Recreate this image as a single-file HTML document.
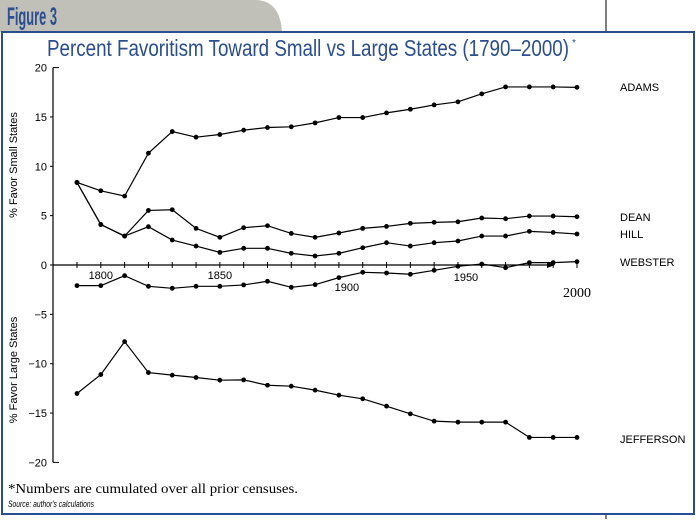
<!DOCTYPE html>
<html><head><meta charset="utf-8"><style>
html,body{margin:0;padding:0;background:#fff;}
body{width:696px;height:519px;position:relative;overflow:hidden;font-family:"Liberation Sans",sans-serif;}
</style></head><body>
<svg width="696" height="519" viewBox="0 0 696 519" xmlns="http://www.w3.org/2000/svg">
<path d="M0 0 H255 Q280 0 282 32 H0 Z" fill="#c0bfb8"/>
<text x="7" y="25" textLength="50" lengthAdjust="spacingAndGlyphs" font-weight="bold" font-size="25" fill="#2a4e8f">Figure 3</text>
<line x1="606" y1="0" x2="606" y2="32" stroke="#000" stroke-width="1"/>
<line x1="606" y1="514" x2="606" y2="519" stroke="#000" stroke-width="1"/>
<rect x="2" y="32" width="692" height="482" fill="none" stroke="#2a4e8f" stroke-width="2"/>
<text x="47" y="56" textLength="522" lengthAdjust="spacingAndGlyphs" font-size="23" fill="#2a4e8f">Percent Favoritism Toward Small vs Large States (1790–2000)</text>
<text x="572" y="46" font-size="10" fill="#2a4e8f">*</text>
<g id="plot"></g>
<text transform="translate(17,165) rotate(-90)" text-anchor="middle" font-size="11" fill="#000">% Favor Small States</text>
<text transform="translate(17,370) rotate(-90)" text-anchor="middle" font-size="11" fill="#000">% Favor Large States</text>
<text x="8" y="493" textLength="290" lengthAdjust="spacingAndGlyphs" font-family="Liberation Serif, serif" font-size="14">*Numbers are cumulated over all prior censuses.</text>
<text x="8" y="507" textLength="86" lengthAdjust="spacingAndGlyphs" font-style="italic" font-size="9">Source: author's calculations</text>
</svg>
<script>
const years=[1790,1800,1810,1820,1830,1840,1850,1860,1870,1880,1890,1900,1910,1920,1930,1940,1950,1960,1970,1980,1990,2000];
const adams=[8.36,7.52,6.98,11.33,13.52,12.95,13.22,13.66,13.93,14.0,14.4,14.94,14.94,15.41,15.78,16.22,16.53,17.34,18.04,18.04,18.04,18.0];
const dean=[8.36,4.1,2.93,5.53,5.6,3.71,2.8,3.78,3.98,3.2,2.8,3.24,3.71,3.91,4.22,4.32,4.38,4.76,4.69,4.96,4.96,4.89];
const hill=[8.36,4.1,2.93,3.88,2.53,1.92,1.28,1.69,1.69,1.18,0.91,1.18,1.75,2.26,1.92,2.26,2.43,2.93,2.93,3.41,3.3,3.14];
const webster=[-2.09,-2.09,-1.08,-2.16,-2.36,-2.16,-2.16,-2.02,-1.65,-2.26,-1.99,-1.28,-0.74,-0.81,-0.94,-0.54,-0.13,0.1,-0.27,0.24,0.24,0.34];
const jefferson=[-13.02,-11.1,-7.76,-10.9,-11.16,-11.4,-11.67,-11.64,-12.18,-12.28,-12.68,-13.19,-13.56,-14.3,-15.08,-15.82,-15.92,-15.92,-15.92,-17.47,-17.47,-17.47];
const yTicks=[20,15,10,5,0,-5,-10,-15,-20];
const xLabels=["1800","1850","1900","1950","2000"];
const seriesNames=["ADAMS","DEAN","HILL","WEBSTER","JEFFERSON"];
const NS="http://www.w3.org/2000/svg";
const g=document.getElementById('plot');
const X=y=>77+(y-1790)*(500/210);
const Y=v=>265-v*9.87;
function el(t,a){const e=document.createElementNS(NS,t);for(const k in a)e.setAttribute(k,a[k]);g.appendChild(e);return e;}
let ax=el('line',{x1:53,y1:Y(20),x2:53,y2:Y(-20),stroke:'#000','stroke-width':1.2});


yTicks.forEach(v=>{
  let t=el('line',{x1:53,y1:Y(v),x2:(v==20||v==-20)?59:50,y2:Y(v),stroke:'#000'});
  
  
  let l=el('text',{x:47,y:Y(v)+4,'text-anchor':'end','font-size':11});
  l.textContent=v<0?'−'+Math.abs(v):String(v);
  
  
});
let xa=el('line',{x1:53,y1:Y(0),x2:548,y2:Y(0),stroke:'#000','stroke-width':1.2});


let ar=el('path',{d:`M555 ${Y(0)} l-8 -3 v6 z`,fill:'#000'});


years.forEach(y=>{
  let t=el('line',{x1:X(y),y1:Y(0)-3,x2:X(y),y2:Y(0)+3,stroke:'#000'});
  
  
});
const xlPos=[[1800,279],[1850,279],[1900,291],[1950,281]];
xlPos.forEach((p,i)=>{
  let l=el('text',{x:X(p[0])+(i==2?8:i==3?8:0),y:p[1],'text-anchor':'middle','font-size':11});
  l.textContent=xLabels[i];
  
  
});
let l2=el('text',{x:X(2000),y:297,'text-anchor':'middle','font-size':14,'font-family':'Liberation Serif, serif'});
l2.textContent=xLabels[4];


const all=[adams,dean,hill,webster,jefferson];
const labY=[87,217,234,262,439];
all.forEach((s,i)=>{
  let p=el('polyline',{points:s.map((v,j)=>X(years[j])+','+Y(v)).join(' '),fill:'none',stroke:'#000','stroke-width':1.2});
  
  
  s.forEach((v,j)=>{
    let c=el('circle',{cx:X(years[j]),cy:Y(v),r:2.4,fill:'#000'});
    
    
  });
  let t=el('text',{x:620,y:labY[i]+4,'font-size':11});
  t.textContent=seriesNames[i];
  
  
});
</script>
</body></html>
